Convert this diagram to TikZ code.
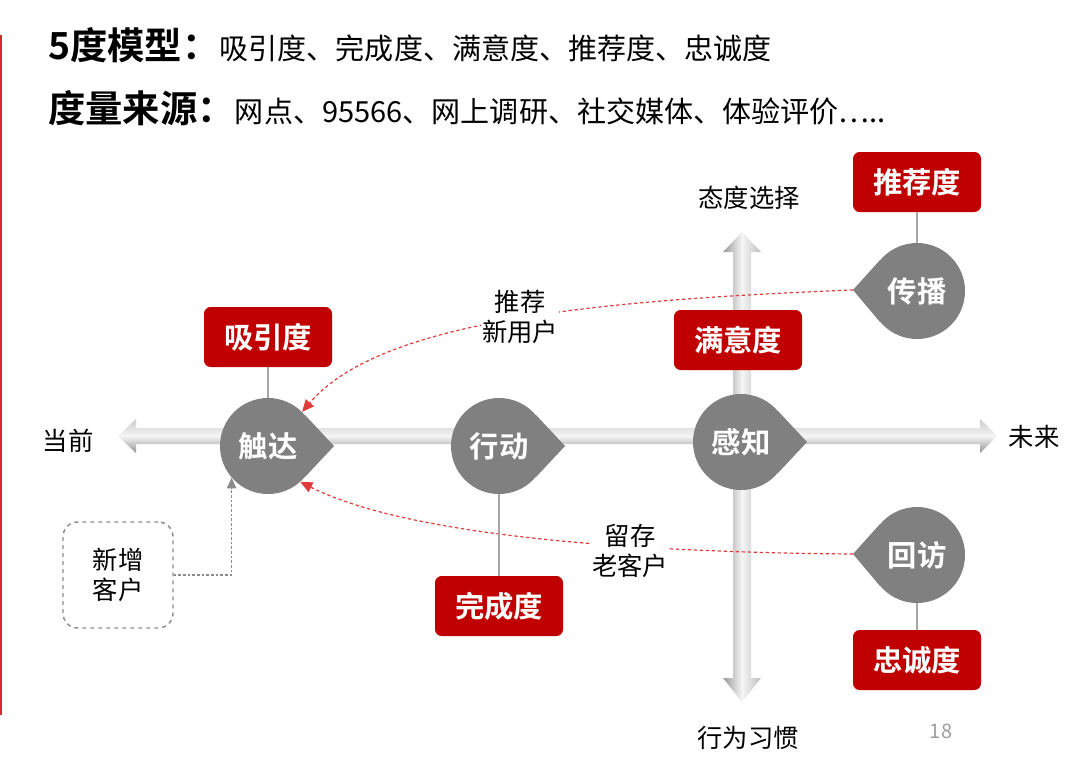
\documentclass[tikz,border=0pt]{standalone}
\usepackage{fontspec}
\setmainfont{Noto Sans CJK SC}[BoldFont={Noto Sans CJK SC Bold}]
\usetikzlibrary{arrows.meta,calc}
\definecolor{boxred}{HTML}{C00000}
\definecolor{dropgray}{HTML}{808080}
\definecolor{dashred}{HTML}{E03C3C}
\definecolor{linkgray}{HTML}{A6A6A6}
\definecolor{edgered}{HTML}{D42A2A}
\definecolor{boxgray}{HTML}{8C8C8C}
\begin{document}
\begin{tikzpicture}[x=0.75pt,y=-0.75pt,
  stage/.style={circle,fill=dropgray,minimum size=72pt,inner sep=0pt,text=white,font=\bfseries\fontsize{22}{24}\selectfont},
  metric/.style={rectangle,rounded corners=5pt,fill=boxred,minimum width=96pt,minimum height=45pt,inner sep=0pt,text=white,font=\bfseries\fontsize{22}{24}\selectfont},
  lbl/.style={font=\fontsize{19}{22.5}\selectfont,align=center,inner sep=1pt},
  link/.style={draw=linkgray,line width=0.9pt},
  reddash/.style={draw=dashred,line width=0.9pt,dash pattern=on 2.5pt off 2pt,-{Triangle[length=9pt,width=8pt]}},
  graydash/.style={draw=boxgray,line width=0.9pt,dash pattern=on 2pt off 1.5pt,-{Triangle[length=8pt,width=7pt]}},
  newbox/.style={draw=boxgray,dashed,line width=1.1pt,rounded corners=11pt,minimum width=82.5pt,minimum height=79.5pt,align=center,font=\fontsize{19}{22.5}\selectfont}
]
\fill[white] (0,0) rectangle (1080,768);
\useasboundingbox (0,0) rectangle (1080,768);

% left red rule
\draw[edgered,line width=1.5pt] (1,35) -- (1,715);

% titles
\node[anchor=base west,inner sep=0pt] (t1) at (48,59) {{\bfseries\fontsize{28}{30}\selectfont 5度模型：}{\fontsize{21.8}{24}\selectfont 吸引度、完成度、满意度、推荐度、忠诚度}};
\node[anchor=base west,inner sep=0pt] (t2) at (48,122) {{\bfseries\fontsize{28}{30}\selectfont 度量来源：}{\fontsize{21.8}{24}\selectfont 网点、95566、网上调研、社交媒体、体验评价…..}};

\coordinate (spreadtip) at (853,290);
\coordinate (revisittip) at (853,554);

% axes
\shade[top color=gray!40,bottom color=gray!85,middle color=white!92!gray]
  (118,436) -- (136,419) -- (136,428) -- (980,428) -- (980,419) -- (997,436)
  -- (980,453) -- (980,444) -- (136,444) -- (136,453) -- cycle;
\shade[left color=gray!80,right color=gray!50,middle color=white!92!gray]
  (742,232) -- (761,252) -- (751,252) -- (751,678) -- (761,678) -- (742,702)
  -- (723,678) -- (733,678) -- (733,252) -- (723,252) -- cycle;

% stage nodes (teardrops)
\node[stage] (touch) at (268,446) {触达};
\fill[dropgray] (touch.40) -- ($(touch.center)+(66,0)$) -- (touch.-40) -- cycle;
\node[stage] (act) at (499,446) {行动};
\fill[dropgray] (act.40) -- ($(act.center)+(66,0)$) -- (act.-40) -- cycle;
\node[stage] (perceive) at (741,442) {感知};
\fill[dropgray] (perceive.40) -- ($(perceive.center)+(66,0)$) -- (perceive.-40) -- cycle;
\node[stage] (spread) at (917,291) {传播};
\fill[dropgray] (spread.140) -- (spreadtip) -- (spread.220) -- cycle;
\node[stage] (revisit) at (917,555) {回访};
\fill[dropgray] (revisit.140) -- (revisittip) -- (revisit.220) -- cycle;

% red curves
\draw[reddash] (spreadtip) .. controls (600,300) and (380,320) .. (touch.45);
\draw[reddash] (revisittip) .. controls (600,552) and (400,532) .. (touch.-48);

% metric boxes
\node[metric] (attract) at (268,337) {吸引度};
\node[metric] (satis) at (738,340) {满意度};
\node[metric] (recommend) at (917,182) {推荐度};
\node[metric] (complete) at (499,606) {完成度};
\node[metric] (loyal) at (917,660) {忠诚度};

\draw[link] (attract.south) -- (touch.north);
\draw[link] (act.south) -- (complete.north);
\draw[link] (recommend.south) -- (spread.north);
\draw[link] (revisit.south) -- (loyal.north);

% labels
\node[lbl,fill=white] (rec) at (520,317) {推荐\\新用户};
\node[lbl,fill=white] (keep) at (630,551) {留存\\老客户};
\node[lbl] (now) at (68,441) {当前};
\node[lbl] (future) at (1034,437) {未来};
\node[lbl] (attitude) at (749,198) {态度选择};
\node[lbl] (habit) at (748,738) {行为习惯};
\node[text=gray!75,font=\fontsize{15}{17}\selectfont] (page) at (941,731) {18};

% new customers
\node[newbox] (newc) at (118,575) {新增\\客户};
\draw[graydash] (newc.east) -| (touch.221);
\end{tikzpicture}
\end{document}
